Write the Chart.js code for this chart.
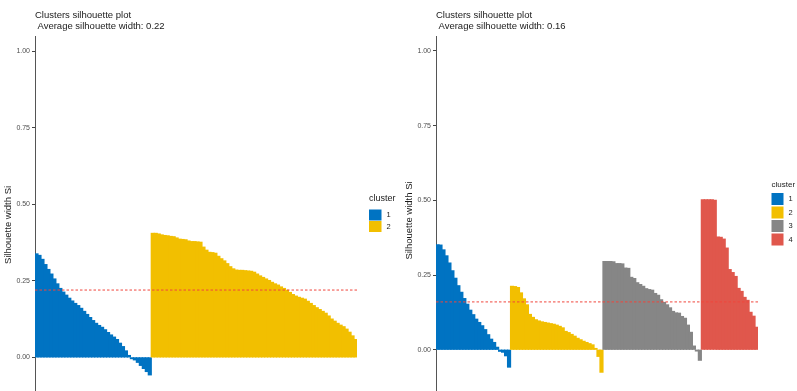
<!DOCTYPE html>
<html>
<head>
<meta charset="utf-8">
<script src="https://cdn.jsdelivr.net/npm/chart.js@4/dist/chart.umd.min.js"></script>
<style>
  html, body { margin: 0; padding: 0; background: #fff; overflow: hidden; width: 797px; height: 391px; }
  .panel { position: absolute; top: 0; }
  #left { left: 0; width: 398px; height: 414px; }
  #right { left: 400px; width: 397px; height: 405px; }
</style>
</head>
<body>
<div class="panel" id="left"><canvas id="silK2"></canvas></div>
<div class="panel" id="right"><canvas id="silK4"></canvas></div>
<script>
// silhouette widths per observation, sorted within each cluster (k = 2)
const k2Cluster1 = [0.338, 0.333, 0.320, 0.303, 0.287, 0.272, 0.256, 0.240, 0.225, 0.213,
                    0.203, 0.193, 0.184, 0.176, 0.169, 0.160, 0.150, 0.140, 0.130, 0.120,
                    0.111, 0.104, 0.098, 0.090, 0.081, 0.073, 0.066, 0.058, 0.046, 0.035,
                    0.021, 0.006, -0.004, -0.008, -0.016, -0.026, -0.036, -0.046, -0.057];
const k2Cluster2 = [0.405, 0.405, 0.403, 0.400, 0.398, 0.397, 0.395, 0.394, 0.390, 0.386,
                    0.385, 0.384, 0.380, 0.378, 0.378, 0.377, 0.376, 0.360, 0.350, 0.343,
                    0.342, 0.340, 0.330, 0.322, 0.315, 0.306, 0.296, 0.289, 0.285, 0.284,
                    0.284, 0.283, 0.282, 0.281, 0.278, 0.272, 0.266, 0.261, 0.256, 0.251,
                    0.245, 0.240, 0.236, 0.230, 0.225, 0.219, 0.212, 0.205, 0.200, 0.196,
                    0.193, 0.190, 0.183, 0.176, 0.169, 0.162, 0.156, 0.150, 0.144, 0.135,
                    0.125, 0.118, 0.111, 0.105, 0.100, 0.092, 0.082, 0.070, 0.058];
const k2AvgWidth = 0.22;

// k = 4
const k4Cluster1 = [0.351, 0.350, 0.334, 0.314, 0.290, 0.264, 0.239, 0.214, 0.192, 0.171,
                    0.152, 0.132, 0.117, 0.102, 0.091, 0.080, 0.067, 0.050, 0.035, 0.024,
                    0.008, -0.005, -0.008, -0.020, -0.058];
const k4Cluster2 = [0.212, 0.211, 0.208, 0.190, 0.170, 0.150, 0.118, 0.108, 0.100, 0.096,
                    0.093, 0.091, 0.089, 0.087, 0.085, 0.082, 0.078, 0.073, 0.061, 0.057,
                    0.051, 0.045, 0.038, 0.033, 0.028, 0.024, 0.020, 0.016, 0.004, -0.022,
                    -0.075];
const k4Cluster3 = [0.295, 0.295, 0.295, 0.294, 0.288, 0.288, 0.287, 0.273, 0.272, 0.242,
                    0.238, 0.224, 0.218, 0.212, 0.204, 0.201, 0.199, 0.188, 0.182, 0.167,
                    0.158, 0.150, 0.140, 0.128, 0.123, 0.122, 0.111, 0.105, 0.082, 0.058,
                    0.012, -0.004, -0.035];
const k4Cluster4 = [0.502, 0.502, 0.502, 0.502, 0.500, 0.377, 0.376, 0.370, 0.340, 0.268,
                    0.258, 0.245, 0.205, 0.195, 0.175, 0.165, 0.125, 0.112, 0.075];
const k4AvgWidth = 0.16;

const clusterColors = ['#0073C2', '#F2BF00', '#868686', '#E0574C'];
const yTicks = [0, 0.25, 0.5, 0.75, 1];

const FONT = "'Liberation Sans', Arial, sans-serif";
Chart.defaults.font.family = FONT;

// one dataset for all observations, coloured by cluster
function buildDataset(clusters) {
    const data = [];
    const colors = [];
    clusters.forEach((vals, k) => {
        vals.forEach(v => { data.push(v); colors.push(clusterColors[k]); });
    });
    return {
        data,
        backgroundColor: colors,
        borderColor: colors,
        borderWidth: 0,
        inflateAmount: 0.6,
        barPercentage: 1,
        categoryPercentage: 1
    };
}

// average line, two-line title and the cluster key
const silhouetteDecor = {
    id: 'silhouetteDecor',
    afterDatasetsDraw(chart, args, opts) {
        const { ctx, chartArea, scales: { y } } = chart;
        const yAvg = y.getPixelForValue(opts.avg);
        ctx.save();
        ctx.strokeStyle = '#F0463C';
        ctx.lineWidth = 1;
        ctx.setLineDash([2.5, 2]);
        ctx.beginPath();
        ctx.moveTo(chartArea.left, yAvg);
        ctx.lineTo(chartArea.right, yAvg);
        ctx.stroke();
        ctx.restore();
    },
    afterDraw(chart, args, opts) {
        const { ctx, chartArea } = chart;
        const lg = opts.legend;
        ctx.save();
        ctx.fillStyle = '#1a1a1a';
        ctx.textAlign = 'left';
        ctx.textBaseline = 'middle';
        ctx.font = `9.5px ${FONT}`;
        ctx.fillText('Clusters silhouette plot', chartArea.left, 15);
        ctx.fillText('Average silhouette width: ' + opts.avg.toFixed(2), chartArea.left + 2.5, 26);

        ctx.font = `${lg.titleSize}px ${FONT}`;
        ctx.fillText('cluster', lg.x, lg.titleY);
        for (let k = 0; k < opts.count; k++) {
            const top = lg.boxTop + k * lg.pitch;
            ctx.fillStyle = clusterColors[k];
            ctx.fillRect(lg.x, top, lg.boxW, lg.boxH);
            ctx.fillStyle = '#1a1a1a';
            ctx.font = `${lg.labelSize}px ${FONT}`;
            ctx.fillText(String(k + 1), lg.labelX, top + lg.boxH / 2);
        }
        ctx.restore();
    }
};

function silhouetteChart(canvasId, clusters, avg, axisWidth, padRight, titlePad, legend) {
    const dataset = buildDataset(clusters);
    const labels = dataset.data.map((_, i) => i + 1);
    return new Chart(document.getElementById(canvasId), {
        type: 'bar',
        data: { labels, datasets: [dataset] },
        plugins: [silhouetteDecor],
        options: {
            responsive: true,
            maintainAspectRatio: false,
            animation: false,
            layout: { padding: { top: 36, right: padRight, bottom: 0, left: 0 } },
            scales: {
                x: { display: false },
                y: {
                    min: -0.185,
                    max: 1.05,
                    afterBuildTicks: s => { s.ticks = yTicks.map(v => ({ value: v })); },
                    afterFit: s => { s.width = axisWidth; s.paddingTop = 0; s.paddingBottom = 0; },
                    ticks: {
                        callback: v => Number(v).toFixed(2),
                        font: { size: 7 },
                        color: '#4d4d4d',
                        padding: 2
                    },
                    grid: { drawOnChartArea: false, drawTicks: true, tickLength: 3, tickColor: '#444' },
                    border: { display: true, color: '#555', width: 1 },
                    title: {
                        display: true,
                        text: 'Silhouette width Si',
                        font: { size: 9.5 },
                        color: '#1a1a1a',
                        padding: { top: titlePad, bottom: 0 }
                    }
                }
            },
            plugins: {
                legend: { display: false },
                tooltip: { enabled: false },
                silhouetteDecor: { avg, legend, count: clusters.length }
            }
        }
    });
}

silhouetteChart('silK2', [k2Cluster1, k2Cluster2], k2AvgWidth, 35, 41, 3,
    { x: 369, titleY: 199, titleSize: 9, boxTop: 209.5, boxW: 12.5, boxH: 11, pitch: 11.5, labelX: 386.5, labelSize: 7.5 });

silhouetteChart('silK4', [k4Cluster1, k4Cluster2, k4Cluster3, k4Cluster4], k4AvgWidth, 36, 39, 4,
    { x: 371.5, titleY: 185, titleSize: 8, boxTop: 193, boxW: 12, boxH: 12, pitch: 13.5, labelX: 388.5, labelSize: 7.5 });
</script>
</body>
</html>
